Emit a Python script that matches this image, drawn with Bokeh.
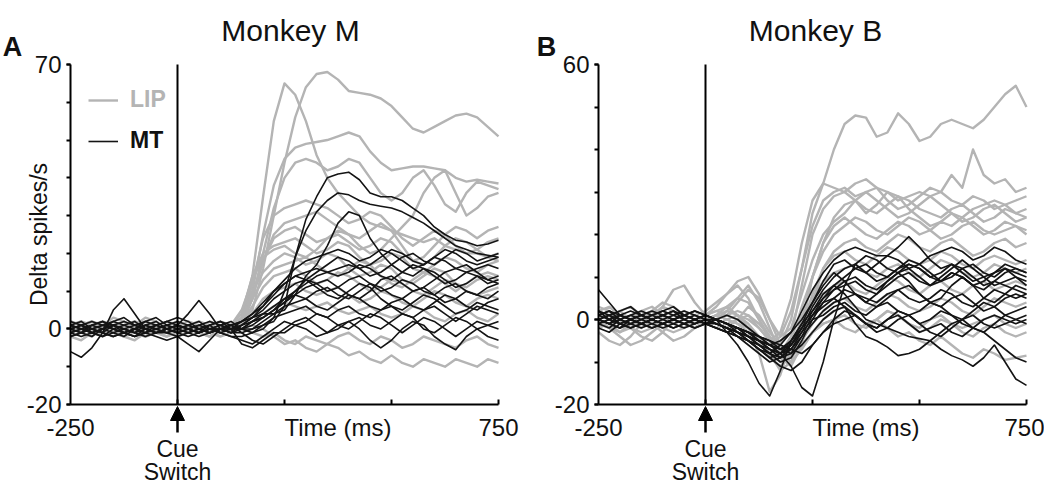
from bokeh.plotting import figure
from bokeh.models import (Arrow, NormalHead, Label, FixedTicker, Legend,
                          LegendItem, Range1d)
from bokeh.layouts import row
from bokeh.embed import file_html
from bokeh.resources import INLINE

FONT = "Liberation Sans"
GRAY = "#b4b4b4"
BLACK = "#141414"

# time axis (ms), shared by every trace
time_ms = list(range(-250, 751, 25))
cue_time = 0

# ---------------- Monkey M ----------------
m_lip = [
    [1,0,-1,1,2,0,-1,1,0,-1,0, 0,-1,1,0,1, 2,5,16,30,44,56,64,67.5,68,66,63,62.5,62,61,59,56,53,52,53.5,55,56.5,57,56,53.5,51],
    [0,1,2,1,-1,0,1,2,0,-1,1, 0,1,-1,0,1, 3,14,35,55,65,62,55,46,40,36,33,30,28,27,26,25,24,23,24,22,21,20,20,19,18],
    [-1,0,1,2,0,-2,-1,0,1,0,-1, 1,0,-1,1,0, 2,10,25,38,45,48,49,49.5,50,51,52,51,47,44,42,42.5,43,43,42.5,42,40,39,39.5,39,38.5],
    [2,1,0,-1,1,2,0,-2,-1,1,0, -1,0,2,1,0, 2,8,20,32,40,44,45,44,42,43,45,44,40,36,34,36,40,42,38,33,31,36,39,38,37],
    [0,-1,-2,0,1,-1,0,2,1,0,-1, 0,1,0,-1,0, 2,12,24,30,32,33,34,33,32,30,28,29,31,30,27,24,22,24,26,25,22,20,21,23,24],
    [-2,-1,1,0,-1,1,2,0,-1,-2,0, 1,0,-1,0,1, 1,8,18,25,28,29,30,31,29,27,25,24,26,28,26,22,18,17,19,22,24,23,21,19,20],
    [1,2,0,-1,-2,0,1,0,-1,1,2, 0,-1,0,1,1, 4,14,20,22,23,24,22,20,21,23,22,19,17,18,20,19,16,15,17,19,18,16,15,17,18],
    [0,-1,1,2,1,0,-1,-2,0,1,0, -1,0,1,0,0, 3,10,15,18,20,19,17,18,20,19,16,14,15,17,16,13,12,14,16,15,12,11,13,14,13],
    [-1,0,0,1,-1,-2,0,1,2,0,-1, 0,1,0,-1,0, 2,6,11,14,15,16,14,12,13,15,14,12,10,11,13,12,10,9,11,13,12,10,9,10,11],
    [1,0,-1,-1,0,1,0,-1,0,2,1, 0,-1,-2,0,0, 1,4,8,10,11,12,10,9,10,11,9,7,8,10,9,7,6,8,10,9,7,6,8,9,8],
    [-2,-3,-1,0,1,0,-1,-2,-1,0,1, 2,1,0,-1,0, 0,2,4,6,7,6,5,6,7,5,4,5,6,4,3,4,6,5,3,2,4,5,3,2,4],
    [0,1,2,0,-1,-2,-3,-1,0,-1,-2, -1,0,-1,-2,-1, 0,1,0,-2,-4,-3,-5,-6,-4,-5,-7,-6,-8,-9,-7,-9,-10,-8,-9,-10,-8,-9,-10,-8,-9],
    [2,1,-1,-2,0,1,2,1,-1,-2,-1, 0,-1,-2,-1,0, 0,-1,-2,-1,-3,-4,-2,-3,-4,-2,-1,-3,-4,-2,-3,-5,-4,-2,-3,-4,-5,-3,-2,-4,-5],
    [0,-1,0,1,3,2,0,-1,0,1,0, -1,0,1,2,1, 2,9,18,24,26,27,25,23,24,26,25,22,20,21,24,27,30,36,40,42,36,30,32,35,36],
    [-1,0,1,0,-1,0,1,3,2,0,-1, 0,1,0,0,1, 5,13,19,21,22,20,19,21,24,25,23,21,22,24,23,20,18,19,22,25,27,26,24,26,27],
    [1,2,1,0,-1,-1,0,1,0,-1,0, 1,2,1,0,0, 2,8,13,16,17,18,19,17,15,14,16,18,17,14,12,11,13,15,14,12,10,12,14,15,14],
]
m_mt = [
    [0,1,-1,0,2,1,0,-1,1,0,-1, 0,1,0,-1,0, 0,0,1,2,6,19,29,35,40,41,41.5,39.5,36,35,35,34,32,30,27,25,23.5,23,22,22.5,23.5],
    [1,0,-1,-2,0,1,2,0,-1,0,1, 0,-1,1,2,0, 0,-1,0,3,10,19,26,31,34,36,35.5,34,33,32.5,32,31,29.5,28,26,24,22,21,20,19.5,19],
    [-1,0,1,0,-1,-2,0,1,0,-1,0, 1,0,-1,0,1, 2,3,4,4,5,9,14,17,22,28,31,30,24,20,17,15,14,16,15,13,11,12,14,13,12],
    [0,-1,0,1,0,-1,-2,-1,0,1,2, 1,0,-1,0,0, 1,3,6,10,13,16,18,19,20,21,20,18,19,21,20,18,16,17,19,18,16,15,16,17,16],
    [-6,-7.5,-5,-1,1,0,-1,0,1,2,1, 0,-1,0,0,0, 2,4,7,10,12,14,15,16,15,14,15,17,16,14,13,15,17,16,14,12,13,15,14,12,13],
    [1,2,0,-1,5,8,4,0,-1,0,1, 0,-1,0,0,-1, 1,3,5,8,10,12,13,12,10,11,13,14,12,10,11,13,12,10,9,11,12,10,9,11,12],
    [0,-1,-2,0,1,0,-1,1,2,0,1, 4,7.5,4,0,-1, 0,2,4,6,8,9,8,10,11,9,8,10,12,11,9,8,10,11,9,7,8,10,9,8,10],
    [-1,0,1,2,0,-1,0,-1,-2,-3,-2, -4,-6,-3,0,1, -1,0,2,4,6,7,8,6,5,7,9,8,6,5,7,8,6,5,7,9,8,6,5,7,8],
    [2,1,0,-1,-2,-1,0,2,3,1,0, -1,0,1,-1,-2, -2,-1,1,3,4,5,6,4,3,5,6,4,3,5,6,4,3,5,6,4,2,4,6,5,4],
    [-2,-1,0,1,2,3,1,0,-1,-1,0, 1,2,0,-1,-2, -3,-4,-2,0,2,1,2,4,3,1,0,2,4,3,1,-1,1,3,2,0,-2,0,2,1,0],
    [1,0,-1,-2,-1,0,1,2,1,0,-1, -2,-1,0,1,0, -4,-5,-3,-1,-1,1,0,-2,-1,1,2,0,-3,-5,-3,0,2,1,-2,-4,-5.5,-2,0,-2,-3],
    [0,1,2,1,0,-1,-2,0,1,2,3, 2,0,-1,0,1, 0,2,3,5,7,9,11,12,13,11,9,8,10,13,14,12,10,11,13,15,16,17,15,13,14],
    [-1,-2,-1,0,1,2,1,0,-1,0,-1, 0,1,2,1,0, 1,2,3,5,7,10,13,15,17,19,18,16,17,19,21,20,18,17,19,21,20,18,17,18,19],
    [1,0,-1,0,1,0,-1,-2,-1,0,1, 0,-1,0,1,2, 0,1,3,5,8,10,12,14,15,16,17,16,14,15,17,19,20,18,17,19,21,20,18,19,20],
    [0,1,0,-1,-2,-1,0,1,0,-1,-2, -1,0,1,2,1, 2,4,6,9,12,14,13,11,9,8,10,12,11,8,6,5,7,9,8,6,4,5,7,6,5],
    [-2,-1,1,2,1,-1,-2,-1,0,1,0, -1,-2,-1,0,-1, -1,-3,-4,-2,0,2,3,1,-1,0,2,3,1,0,2,4,3,0,-1,1,3,2,0,1,2],
]

# ---------------- Monkey B ----------------
b_lip = [
    [1,2,0,-1,-2,0,1,2,0,-1,0, 1,0,-1,-2,-4, -6,-4,2,12,25,32,40,46,48,47.5,43,44,48.5,46,42,43,46,47,46,45,47,50,53,55,50],
    [0,-1,-3,-2,0,1,3,2,0,-1,1, 2,3,1,-2,-5, -8,-6,0,12,22,28,30,31,29,30,31,30,28,29,30,29,30,34,31,40,34,32,33,30,31],
    [-1,0,2,3,1,0,3,7,8,4,1, 3,6,8,5,0, -5,-3,5,18,28,32,31,30,32,33,31,28,26,27,29,31,30,28,27,29,28,26,27,28,29],
    [2,1,0,-2,-4,-5,-3,0,1,0,-1, 0,2,5,8,4, -2,-8,-4,8,20,26,29,30,28,25,27,30,29,26,24,22,23,25,24,22,20,21,23,22,20],
    [0,-2,-3,-1,1,2,0,-1,0,1,0, -1,0,1,-1,-4, -8,-12,-10,-2,10,18,24,27,28,26,25,27,29,28,26,25,24,26,27,25,23,24,26,25,24],
    [-3,-5,-6,-4,-1,1,2,1,0,-1,0, 1,0,-1,-3,-8, -17,-13,-5,3,10,16,20,22,24,23,21,20,22,24,23,21,19,20,22,23,21,20,21,22,21],
    [1,0,-1,0,2,3,1,0,-1,-2,-1, 0,1,2,1,-2, -5,-9,-11,-6,4,12,16,18,19,17,16,18,20,19,17,16,18,19,17,15,16,18,19,17,18],
    [0,1,0,-2,-3,-2,0,1,2,1,0, -1,-2,0,3,1, -3,-6,-8,-2,6,12,15,16,14,13,15,17,16,14,13,14,16,15,13,12,14,15,14,13,14],
    [-1,-2,0,1,0,-1,-3,-5,-4,-2,0, 1,2,1,0,-2, -5,-7,-6,0,5,9,11,12,13,11,10,12,13,11,10,12,14,13,11,10,11,13,12,11,12],
    [2,3,1,0,-1,0,1,0,-1,0,1, 0,-1,-2,-3,-5, -6,-5,-3,1,4,6,8,9,7,6,8,10,9,7,6,8,9,7,6,8,9,7,8,9,8],
    [0,-1,-2,-1,0,1,0,-1,0,1,2, 4,6,9,10,6, 0,-6,-9,-5,-1,2,4,5,3,2,4,6,5,3,2,3,5,4,2,1,3,5,4,3,4],
    [1,0,-1,0,1,2,1,-1,-2,-1,0, 1,3,5,4,0, -4,-7,-8,-6,-3,-1,0,1,-1,-2,0,2,1,-1,-2,0,1,-1,-2,-1,0,1,-1,-2,-1],
    [-1,-2,-4,-6,-5,-3,-1,0,1,0,-1, -2,-1,0,1,-1, -4,-8,-10,-7,-3,0,2,3,1,-1,0,2,1,-1,-3,-2,0,-1,-3,-4,-2,-1,-3,-4,-3],
    [0,1,2,0,-1,-2,-1,0,1,2,1, 0,-1,-2,-3,-5, -8,-10,-9,-6,-3,-1,0,-2,-3,-1,0,-2,-4,-3,-5,-6,-4,-6,-8,-9,-7,-8,-9.5,-9,-8.5],
    [3,2,0,-1,0,2,4,3,1,0,-1, 0,1,4,7,5, 0,-4,-2,6,14,20,23,25,28,30,28,26,24,25,27,29,27,25,23,24,26,27,25,23,24],
    [-2,-1,0,1,2,0,-2,-3,-2,0,1, 2,1,0,-2,-5, -9,-11,-8,0,10,18,22,24,22,20,19,21,23,22,20,21,23,22,24,26,27,28,27,25,26],
]
b_mt = [
    [7,4,1,0,-1,0,1,0,-1,0,1, 0,-1,-2,-4,-6, -8,-6,-3,2,7,11,14,16,17,16,15,15,17,19.5,17,14,12,13,11,9,10,8,9,10,8],
    [0,-1,1,2,1,0,-1,0,1,0,-1, 0,-3,-6,-10,-15, -18,-12,-5,-1,2,5,8,10,12,13,11,10,12,14,13,11,9,10,12,13,11,10,12,11,10],
    [1,2,0,-1,-2,-1,0,1,2,1,0, -1,-2,-3,-4,-5, -6,-8,-11,-16,-18,-10,0,8,13,15,14,12,11,13,12,10,9,11,10,8,7,9,8,7,6],
    [0,1,-1,-2,-1,0,1,2,0,-1,0, -1,-2,-3,-5,-7, -8,-9,-7,-3,2,6,8,6,3,0,-1,-2,-3,-4,-4.5,-5,-7,-8.5,-9.5,-11,-9,-6,-10,-14,-15.5],
    [-1,0,1,0,-1,-2,-1,0,1,2,1, 0,-1,-2,-3,-4, -5,-7,-6,-2,1,4,5,3,-1,-4,-5,-6.5,-8.5,-8,-7,-5,-3,-1,0,-2,-3,-1,1,0,-1],
    [0,-1,-2,0,1,2,1,0,-1,-2,-1, 0,1,0,-2,-4, -6,-7,-5,-1,4,9,13,14,12,11,13,15,14,12,13,15,16,17,16,14,15,17,16,14,13],
    [2,1,0,-1,0,1,2,3,1,0,-1, -1,-2,-3,-4,-6, -8,-10,-9,-5,0,4,7,9,10,8,7,9,11,12,10,8,9,11,10,8,9,11,12,10,9],
    [-2,-3,-1,0,1,0,-1,-2,-1,0,1, 0,-1,-2,-3,-5, -7,-8,-7,-4,-1,2,4,5,6,5,4,6,7,5,4,5,7,6,4,3,5,7,6,5,6],
    [1,0,-1,-2,-1,0,1,2,1,0,-1, -2,-3,-4,-5,-6, -7,-8,-6,-3,0,1,3,4,2,1,3,4,2,1,2,4,3,1,0,2,4,3,1,2,3],
    [0,1,2,3,1,0,-1,-2,-1,0,1, 0,-1,-3,-5,-7, -9,-11,-12,-10,-6,-3,-1,0,1,-1,-2,0,2,1,-1,0,2,1,-1,-2,0,1,0,-1,0],
    [-1,-2,0,1,2,1,0,-1,-2,-1,0, -1,-2,-3,-4,-5, -6,-7,-8,-6,-3,0,2,3,1,-1,-2,0,1,-1,-3,-2,-1,-3,-4,-2,-3,-5,-7,-9,-10],
    [0,-1,0,1,0,-1,-2,-1,0,1,0, -1,-2,-4,-6,-8, -10,-9,-6,-2,3,7,10,12,13,11,9,10,12,13,12,10,11,13,12,10,8,9,11,12,11],
    [1,2,1,0,-1,-2,-1,0,1,2,1, 0,-1,-2,-4,-5, -6,-5,-3,0,4,8,11,9,6,4,6,9,11,9,6,4,5,8,10,8,5,4,6,8,7],
    [-1,0,1,0,-1,0,1,0,-1,-2,-1, -2,-3,-4,-5,-7, -9,-8,-5,-2,1,3,5,7,6,4,3,5,7,8,6,4,3,5,6,4,2,3,5,6,5],
    [0,-1,-2,-1,0,1,2,1,0,-1,0, 0,-1,-2,-3,-4, -5,-6,-7,-8,-6,-3,0,2,1,-1,-3,-2,0,1,-1,-3,-4,-2,0,1,-1,-2,-1,0,1],
    [2,0,-1,0,1,0,-1,0,1,0,-1, -2,-3,-2,-3,-5, -7,-9,-8,-4,1,5,7,8,9,7,6,8,10,11,9,8,10,12,14,12,10,11,13,12,11],
]

for grp in (m_lip, m_mt, b_lip, b_mt):
    for tr in grp:
        assert len(tr) == len(time_ms), len(tr)

# ---- layout geometry (canvas pixels) ----
FIG_H = 488
AX_TOP, AX_BOT = 64, 404         # canvas y (from top) of y-max and y-min
AX_W = 428                       # canvas width of the -250..750 ms axis
T0, T1 = -250, 750


def panel(title, letter, lip, mt, ymin, ymax, ylabel_ticks, fig_w, ax_left,
          ylabel, letter_cx, title_cx, legend=False):
    mspp = (T1 - T0) / AX_W
    upp = (ymax - ymin) / (AX_BOT - AX_TOP)
    x0 = T0 - ax_left * mspp
    x1 = T0 + (fig_w - ax_left) * mspp
    y1 = ymax + AX_TOP * upp
    y0 = ymin - (FIG_H - AX_BOT) * upp

    def cx(px):
        return x0 + px * mspp

    def cy(py):
        return y1 - py * upp

    p = figure(width=fig_w, height=FIG_H,
               x_range=Range1d(x0, x1), y_range=Range1d(y0, y1),
               output_backend="svg", toolbar_location=None, min_border=0)
    p.outline_line_color = None
    p.grid.visible = False
    p.background_fill_color = "white"
    p.border_fill_color = "white"

    r_lip = p.multi_line(xs=[time_ms] * len(lip), ys=lip, line_color=GRAY,
                         line_width=2.4, line_join="round")
    r_mt = p.multi_line(xs=[time_ms] * len(mt), ys=mt, line_color=BLACK,
                        line_width=1.6, line_join="round")

    # cue-switch line
    p.segment(x0=[cue_time], y0=[ymin], x1=[cue_time], y1=[ymax],
              line_color="black", line_width=2)

    # axes, pinned at the data origin of the panel
    xa = p.xaxis[0]
    xa.fixed_location = ymin
    xa.bounds = (T0, T1)
    xa.ticker = FixedTicker(ticks=[-250, 375, 750], minor_ticks=[0, 250, 500, 750])
    xa.major_label_overrides = {-250: "-250", 375: "Time (ms)", 750: "750"}
    xa.major_tick_in = 0
    xa.major_tick_out = 0
    xa.minor_tick_in = 5
    xa.minor_tick_out = 0
    xa.major_label_standoff = 9
    ya = p.yaxis[0]
    ya.fixed_location = T0
    ya.bounds = (ymin, ymax)
    ya.ticker = FixedTicker(ticks=ylabel_ticks,
                            minor_ticks=list(range(ymin, ymax + 1, 10)))
    ya.major_label_overrides = {v: str(v) for v in ylabel_ticks}
    ya.major_tick_in = 0
    ya.major_tick_out = 4
    ya.minor_tick_in = 0
    ya.minor_tick_out = 4
    ya.major_label_standoff = 5
    for ax in (xa, ya):
        ax.axis_line_width = 2
        ax.axis_line_color = "black"
        ax.major_tick_line_width = 2
        ax.minor_tick_line_width = 2
        ax.major_tick_line_color = "black"
        ax.minor_tick_line_color = "black"
        ax.major_label_text_font = FONT
        ax.major_label_text_font_size = "24px"
        ax.major_label_text_color = "#111111"
    if ylabel:
        ya.axis_label = ylabel
        ya.axis_label_text_font = FONT
        ya.axis_label_text_font_size = "23px"
        ya.axis_label_text_font_style = "normal"
        ya.axis_label_text_color = "#111111"
        ya.axis_label_standoff = -28

    # title and panel letter
    p.add_layout(Label(x=cx(title_cx), y=cy(30), text=title, text_font=FONT,
                       text_font_size="30px", text_align="center",
                       text_baseline="middle", text_color="#111111"))
    p.add_layout(Label(x=cx(letter_cx), y=cy(46), text=letter,
                       text_font=FONT, text_font_size="27px",
                       text_font_style="bold", text_align="center",
                       text_baseline="middle", text_color="#111111"))
    # cue-switch marker below the axis
    p.add_layout(Arrow(x_start=cue_time, y_start=cy(432), x_end=cue_time,
                       y_end=cy(406), line_width=2.5, line_color="black",
                       end=NormalHead(size=14, fill_color="black",
                                      line_color="black")))
    for txt, yy in (("Cue", 448), ("Switch", 471)):
        p.add_layout(Label(x=cue_time, y=cy(yy), text=txt, text_font=FONT,
                           text_font_size="23px", text_align="center",
                           text_baseline="middle", text_color="#111111"))

    if legend:
        lg1 = Legend(items=[LegendItem(label="LIP", renderers=[r_lip])],
                     location=(88, 375), label_text_color=GRAY)
        lg2 = Legend(items=[LegendItem(label="MT", renderers=[r_mt])],
                     location=(88, 334), label_text_color="#111111")
        for lg in (lg1, lg2):
            lg.label_text_font = FONT
            lg.label_text_font_size = "23px"
            lg.label_text_font_style = "bold"
            lg.glyph_width = 30
            lg.glyph_height = 20
            lg.label_height = 20
            lg.label_standoff = 12
            lg.padding = 0
            lg.margin = 0
            lg.border_line_alpha = 0
            lg.background_fill_alpha = 0
            p.add_layout(lg)
    return p


pa = panel("Monkey M", "A", m_lip, m_mt, -20, 70, [-20, 0, 70], 536, 70,
           "Delta spikes/s", 12, 290, legend=True)
pb = panel("Monkey B", "B", b_lip, b_mt, -20, 60, [-20, 0, 60], 508, 62,
           None, 10, 279)

layout = row(pa, pb)
open("out.html", "w").write(file_html(layout, INLINE))
